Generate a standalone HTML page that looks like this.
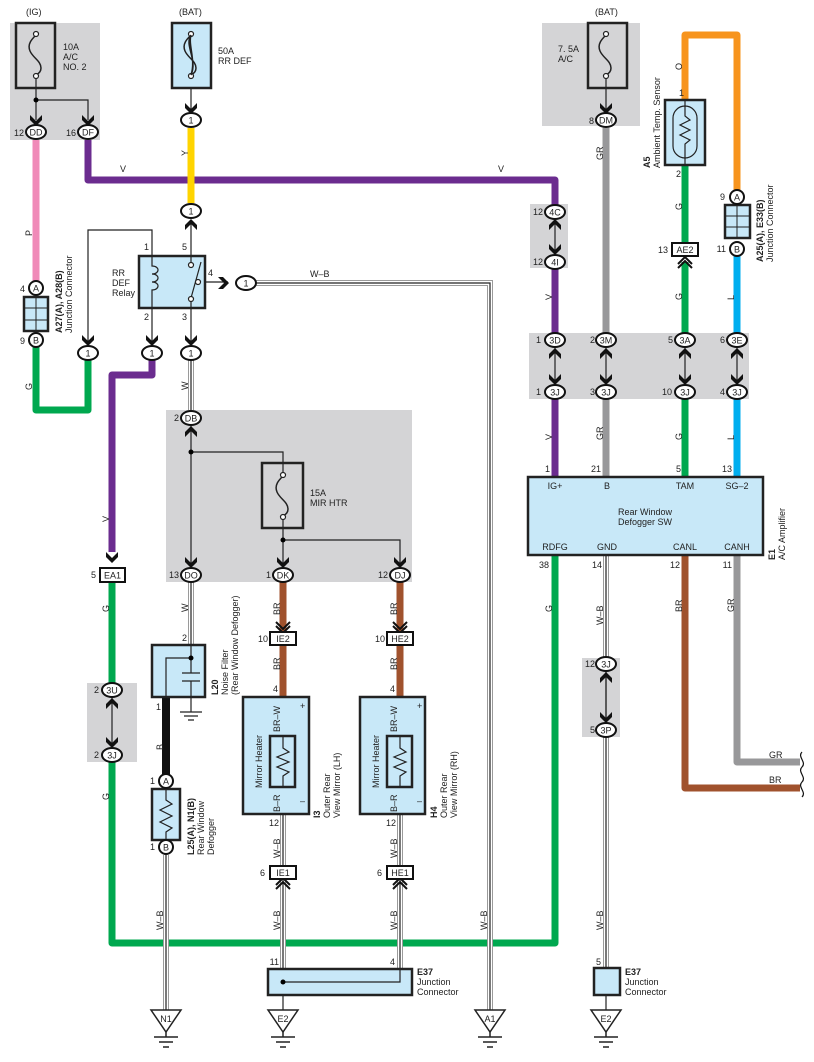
<!DOCTYPE html>
<html><head><meta charset="utf-8"><style>
html,body{margin:0;padding:0;background:#fff}
svg{display:block}
text{font-family:"Liberation Sans",sans-serif;font-size:9px;fill:#222}
.o{fill:none;stroke:#9a9a9a;stroke-width:6}
.m{fill:none;stroke:#fff;stroke-width:4}
.i{fill:none;stroke:#222;stroke-width:1.2}
.k{fill:none;stroke:#222;stroke-width:1.2}
.ov{fill:#fff;stroke:#111;stroke-width:2}
.bx{fill:#c8e8f8;stroke:#222;stroke-width:2.5}
.gp{fill:#d4d4d6}
.fc{fill:#fff;stroke:#222;stroke-width:1.2}
</style></head><body>
<svg width="814" height="1062" viewBox="0 0 814 1062" xmlns="http://www.w3.org/2000/svg">
<defs>
<path id="ad" d="M-6,-11 L0,-5 L6,-11 L6,-6 L0,0 L-6,-6Z" fill="#111"/>
<path id="dc" d="M-7,-10 L0,-3 L7,-10 M-7,-6 L0,1 L7,-6" fill="none" stroke="#111" stroke-width="2"/>
<g id="gnd"><path d="M-15,0 L15,0 L0,22Z" fill="#fff" stroke="#222" stroke-width="1.5"/><path d="M0,22 V27 M-12,27 H12 M-7,32 H7 M-3,37 H3" stroke="#222" stroke-width="1.5"/></g>
<g id="fz"><path d="M0,-20 C-4,-16 -9,-11 -6,-4 C-3,3 5,6 5,13 C5,17 2,19 0,20" fill="none" stroke="#222" stroke-width="1.5"/><circle cx="0" cy="-21" r="2.5" class="fc"/><circle cx="0" cy="21" r="2.5" class="fc"/></g>
</defs>

<rect class="gp" x="10" y="23" width="90" height="117"/>
<rect class="gp" x="542" y="23" width="98" height="103"/>
<rect class="gp" x="166" y="410" width="246" height="172"/>
<rect class="gp" x="530" y="204" width="38" height="64"/>
<rect class="gp" x="529" y="333" width="220" height="66"/>
<rect class="gp" x="87" y="683" width="50" height="79"/>
<rect class="gp" x="582" y="658" width="38" height="79"/>

<g fill="none" stroke-width="7" stroke-linejoin="round">
<path d="M36,140 V283" stroke="#f08ab8"/>
<path d="M36,347 V410 H88 V360" stroke="#00a84f"/>
<path d="M88,140 V180 H555 V205" stroke="#6b2c8f"/>
<path d="M555,268 V333 M555,399 V477" stroke="#6b2c8f"/>
<path d="M191,128 V203" stroke="#ffd400"/>
<path d="M152,360 V375 H112 V552" stroke="#6b2c8f"/>
<path d="M112,582 V683 M112,762 V943 H555 V555" stroke="#00a84f"/>
<path d="M606,128 V333 M606,399 V477" stroke="#98989a"/>
<path d="M685,100 V35 H737 V190" stroke="#f7941d"/>
<path d="M685,165 V243 M685,262 V333 M685,399 V477" stroke="#00a84f"/>
<path d="M737,256 V333 M737,399 V477" stroke="#00aeef"/>
<path d="M685,555 V788 H800" stroke="#a0522d"/>
<path d="M737,555 V762 H800" stroke="#98989a"/>
<path d="M283,582 V632 M283,645 V697 M400,582 V632 M400,645 V697" stroke="#a0522d"/>
<path d="M166,697 V775" stroke="#111" stroke-width="8"/>
</g>
<g fill="none" stroke-width="5">
<path d="M283,697 V736 M400,697 V736" stroke="#d8a080"/>
<path d="M283,787 V814 M400,787 V814" stroke="#d03030"/>
</g>
<path d="M283,697 V736 M400,697 V736 M283,787 V814 M400,787 V814" fill="none" stroke="#fff" stroke-width="1.5"/>

<g>
<path class="o" d="M256,283 H490 V1010"/><path class="m" d="M256,283 H490 V1010"/><path class="i" d="M256,283 H490 V1010"/>
<path class="o" d="M191,360 V410"/><path class="m" d="M191,360 V410"/><path class="i" d="M191,360 V410"/>
<path class="o" d="M191,582 V645"/><path class="m" d="M191,582 V645"/><path class="i" d="M191,582 V645"/>
<path class="o" d="M166,855 V1010"/><path class="m" d="M166,855 V1010"/><path class="i" d="M166,855 V1010"/>
<path class="o" d="M283,814 V865 M283,880 V970"/><path class="m" d="M283,814 V865 M283,880 V970"/><path class="i" d="M283,814 V865 M283,880 V1010"/>
<path class="o" d="M400,814 V865 M400,880 V970"/><path class="m" d="M400,814 V865 M400,880 V970"/><path class="i" d="M400,814 V865 M400,880 V970"/>
<path class="o" d="M606,555 V658 M606,737 V968"/><path class="m" d="M606,555 V658 M606,737 V968"/><path class="i" d="M606,555 V1010"/>
</g>

<g class="k">
<path d="M36,78 V120 M36,100 H88 V120"/>
<path d="M191,78 V112"/>
<path d="M191,222 V256 M191,308 V345"/>
<path d="M88,345 V230 H152 V345"/>
<path d="M198,282 H228"/>
<path d="M191,426 V567 M191,452 H283 V474 M283,518 V567 M283,540 H400 V567"/>
<path d="M606,78 V112"/>
<path d="M555,220 V254 M606,348 V384 M555,348 V384 M685,348 V384 M737,348 V384"/>
<path d="M112,698 V747 M606,672 V722"/>
</g>
<circle cx="36" cy="100" r="2.5"/><circle cx="191" cy="452" r="2.5"/><circle cx="283" cy="540" r="2.5"/>

<use href="#ad" x="36" y="126"/><use href="#ad" x="88" y="126"/><use href="#ad" x="191" y="114"/>
<use href="#ad" x="88" y="346"/><use href="#ad" x="152" y="346"/><use href="#ad" x="191" y="346"/>
<use href="#ad" x="191" y="568"/><use href="#ad" x="283" y="568"/><use href="#ad" x="400" y="568"/>
<use href="#ad" x="606" y="114"/><use href="#ad" x="555" y="255"/><use href="#ad" x="555" y="385"/>
<use href="#ad" x="606" y="385"/><use href="#ad" x="685" y="385"/><use href="#ad" x="737" y="385"/>
<use href="#ad" x="112" y="748"/><use href="#ad" x="606" y="723"/>
<use href="#ad" x="112" y="563"/>
<g transform="translate(229,283) rotate(-90)"><use href="#ad"/></g>
<g transform="translate(191,219) rotate(180)"><use href="#ad"/></g>
<g transform="translate(191,426) rotate(180)"><use href="#ad"/></g>
<g transform="translate(555,219) rotate(180)"><use href="#ad"/></g>
<g transform="translate(555,348) rotate(180)"><use href="#ad"/></g>
<g transform="translate(606,348) rotate(180)"><use href="#ad"/></g>
<g transform="translate(685,348) rotate(180)"><use href="#ad"/></g>
<g transform="translate(737,348) rotate(180)"><use href="#ad"/></g>
<g transform="translate(112,698) rotate(180)"><use href="#ad"/></g>
<g transform="translate(606,672) rotate(180)"><use href="#ad"/></g>
<use href="#dc" x="283" y="632"/><use href="#dc" x="400" y="632"/>
<g transform="translate(283,879) rotate(180)"><use href="#dc"/></g>
<g transform="translate(400,879) rotate(180)"><use href="#dc"/></g>
<g transform="translate(685,258) rotate(180)"><use href="#dc"/></g>

<rect x="16" y="23" width="39" height="65" fill="none" stroke="#222" stroke-width="2.5"/>
<use href="#fz" x="36" y="55"/>
<rect class="bx" x="172" y="23" width="39" height="65"/>
<use href="#fz" x="191" y="55"/>
<path d="M191,35 C184,45 198,60 191,75 M191,35 C188,45 196,60 191,75" fill="none" stroke="#222" stroke-width="1.5"/>
<rect x="588" y="23" width="39" height="65" fill="none" stroke="#222" stroke-width="2.5"/>
<use href="#fz" x="606" y="55"/>
<rect x="262" y="463" width="41" height="65" fill="none" stroke="#222" stroke-width="2.5"/>
<use href="#fz" x="283" y="496"/>

<rect class="bx" x="139" y="256" width="66" height="52"/>
<path d="M152,256 V266 C160,266 160,274 152,274 C160,274 160,282 152,282 C160,282 160,290 152,290 V308" fill="none" stroke="#222" stroke-width="1.2"/>
<path d="M191,256 V264 M191,300 V308 M191,298 L201,262" fill="none" stroke="#222" stroke-width="1.2"/>
<circle cx="191" cy="265" r="2.5" class="fc"/><circle cx="191" cy="299" r="2.5" class="fc"/><circle cx="198" cy="282" r="2.5" class="fc"/>

<rect class="bx" x="24" y="297" width="24" height="34" stroke-width="2"/>
<path d="M36,297 V331 M24,308 H48 M24,320 H48" stroke="#222" stroke-width="1"/>
<rect class="bx" x="725" y="205" width="25" height="33" stroke-width="2"/>
<path d="M737,205 V238 M725,216 H750 M725,227 H750" stroke="#222" stroke-width="1"/>

<rect class="bx" x="665" y="100" width="40" height="65"/>
<rect x="673" y="106" width="24" height="52" rx="12" fill="none" stroke="#222" stroke-width="1.2"/>
<path d="M685,100 V116 L690,120 L680,125 L690,130 L680,135 L690,140 L685,144 V165" fill="none" stroke="#222" stroke-width="1.2"/>

<rect class="bx" x="152" y="645" width="53" height="52"/>
<path d="M191,645 V673 M182,673 H200 M182,681 H200 M191,681 V712 M180,712 H202 M184,716 H198 M188,720 H194 M191,658 H166 V697" fill="none" stroke="#222" stroke-width="1.2"/>
<circle cx="191" cy="658" r="2.5"/>

<rect class="bx" x="152" y="789" width="28" height="51"/>
<path d="M166,789 V800 L172,804 L160,810 L172,816 L160,822 L172,828 L166,832 V840" fill="none" stroke="#222" stroke-width="1.2"/>
<circle cx="166" cy="781" r="7" class="ov"/><text x="166" y="784.5" text-anchor="middle">A</text>
<circle cx="166" cy="847" r="7" class="ov"/><text x="166" y="850.5" text-anchor="middle">B</text>

<rect class="bx" x="243" y="697" width="66" height="117"/>
<rect class="bx" x="270" y="736" width="25" height="51" stroke-width="2"/>
<path d="M283,736 V748 L289,752 L277,757 L289,762 L277,767 L289,772 L283,776 V787" fill="none" stroke="#222" stroke-width="1.2"/>
<rect class="bx" x="360" y="697" width="65" height="117"/>
<rect class="bx" x="387" y="736" width="25" height="51" stroke-width="2"/>
<path d="M400,736 V748 L406,752 L394,757 L406,762 L394,767 L406,772 L400,776 V787" fill="none" stroke="#222" stroke-width="1.2"/>

<rect class="bx" x="528" y="477" width="235" height="78" stroke-width="3"/>

<rect class="bx" x="268" y="969" width="144" height="26"/>
<path d="M283,982 H400 V970" fill="none" stroke="#222" stroke-width="1.2"/><circle cx="283" cy="982" r="2.5"/>
<rect class="bx" x="594" y="968" width="26" height="27"/>

<use href="#gnd" x="166" y="1010"/><use href="#gnd" x="283" y="1010"/><use href="#gnd" x="490" y="1010"/><use href="#gnd" x="606" y="1010"/>
<text x="166" y="1022" text-anchor="middle">N1</text><text x="283" y="1022" text-anchor="middle">E2</text><text x="490" y="1022" text-anchor="middle">A1</text><text x="606" y="1022" text-anchor="middle">E2</text>

<g>
<ellipse class="ov" cx="36" cy="132" rx="10" ry="7"/><text x="36" y="135.5" text-anchor="middle">DD</text>
<ellipse class="ov" cx="88" cy="132" rx="10" ry="7"/><text x="88" y="135.5" text-anchor="middle">DF</text>
<ellipse class="ov" cx="191" cy="120" rx="10" ry="7"/><text x="191" y="123.5" text-anchor="middle">1</text>
<ellipse class="ov" cx="191" cy="211" rx="10" ry="7"/><text x="191" y="214.5" text-anchor="middle">1</text>
<ellipse class="ov" cx="246" cy="283" rx="10" ry="7"/><text x="246" y="286.5" text-anchor="middle">1</text>
<ellipse class="ov" cx="88" cy="353" rx="10" ry="7"/><text x="88" y="356.5" text-anchor="middle">1</text>
<ellipse class="ov" cx="152" cy="353" rx="10" ry="7"/><text x="152" y="356.5" text-anchor="middle">1</text>
<ellipse class="ov" cx="191" cy="353" rx="10" ry="7"/><text x="191" y="356.5" text-anchor="middle">1</text>
<ellipse class="ov" cx="191" cy="418" rx="10" ry="7"/><text x="191" y="421.5" text-anchor="middle">DB</text>
<ellipse class="ov" cx="191" cy="575" rx="10" ry="7"/><text x="191" y="578.5" text-anchor="middle">DO</text>
<ellipse class="ov" cx="283" cy="575" rx="10" ry="7"/><text x="283" y="578.5" text-anchor="middle">DK</text>
<ellipse class="ov" cx="400" cy="575" rx="10" ry="7"/><text x="400" y="578.5" text-anchor="middle">DJ</text>
<ellipse class="ov" cx="112" cy="690" rx="10" ry="7"/><text x="112" y="693.5" text-anchor="middle">3U</text>
<ellipse class="ov" cx="112" cy="755" rx="10" ry="7"/><text x="112" y="758.5" text-anchor="middle">3J</text>
<ellipse class="ov" cx="606" cy="120" rx="10" ry="7"/><text x="606" y="123.5" text-anchor="middle">DM</text>
<ellipse class="ov" cx="555" cy="212" rx="10" ry="7"/><text x="555" y="215.5" text-anchor="middle">4C</text>
<ellipse class="ov" cx="555" cy="262" rx="10" ry="7"/><text x="555" y="265.5" text-anchor="middle">4I</text>
<ellipse class="ov" cx="555" cy="340" rx="10" ry="7"/><text x="555" y="343.5" text-anchor="middle">3D</text>
<ellipse class="ov" cx="606" cy="340" rx="10" ry="7"/><text x="606" y="343.5" text-anchor="middle">3M</text>
<ellipse class="ov" cx="685" cy="340" rx="10" ry="7"/><text x="685" y="343.5" text-anchor="middle">3A</text>
<ellipse class="ov" cx="737" cy="340" rx="10" ry="7"/><text x="737" y="343.5" text-anchor="middle">3E</text>
<ellipse class="ov" cx="555" cy="392" rx="10" ry="7"/><text x="555" y="395.5" text-anchor="middle">3J</text>
<ellipse class="ov" cx="606" cy="392" rx="10" ry="7"/><text x="606" y="395.5" text-anchor="middle">3J</text>
<ellipse class="ov" cx="685" cy="392" rx="10" ry="7"/><text x="685" y="395.5" text-anchor="middle">3J</text>
<ellipse class="ov" cx="737" cy="392" rx="10" ry="7"/><text x="737" y="395.5" text-anchor="middle">3J</text>
<ellipse class="ov" cx="606" cy="664" rx="10" ry="7"/><text x="606" y="667.5" text-anchor="middle">3J</text>
<ellipse class="ov" cx="606" cy="730" rx="10" ry="7"/><text x="606" y="733.5" text-anchor="middle">3P</text>
<circle class="ov" cx="36" cy="288" r="7"/><text x="36" y="291.5" text-anchor="middle">A</text>
<circle class="ov" cx="36" cy="340" r="7"/><text x="36" y="343.5" text-anchor="middle">B</text>
<circle class="ov" cx="737" cy="197" r="7"/><text x="737" y="200.5" text-anchor="middle">A</text>
<circle class="ov" cx="737" cy="249" r="7"/><text x="737" y="252.5" text-anchor="middle">B</text>
</g>
<g>
<rect x="100" y="568" width="25" height="14" fill="#fff" stroke="#111" stroke-width="2"/><text x="112.5" y="578.5" text-anchor="middle">EA1</text>
<rect x="270" y="632" width="26" height="13" fill="#fff" stroke="#111" stroke-width="2"/><text x="283" y="642" text-anchor="middle">IE2</text>
<rect x="387" y="632" width="26" height="13" fill="#fff" stroke="#111" stroke-width="2"/><text x="400" y="642" text-anchor="middle">HE2</text>
<rect x="270" y="866" width="26" height="13" fill="#fff" stroke="#111" stroke-width="2"/><text x="283" y="876" text-anchor="middle">IE1</text>
<rect x="387" y="866" width="26" height="13" fill="#fff" stroke="#111" stroke-width="2"/><text x="400" y="876" text-anchor="middle">HE1</text>
<rect x="672" y="243" width="26" height="13" fill="#fff" stroke="#111" stroke-width="2"/><text x="685" y="253" text-anchor="middle">AE2</text>
</g>

<g>
<text x="26" y="15">(IG)</text><text x="179" y="15">(BAT)</text><text x="595" y="15">(BAT)</text>
<text x="63" y="50">10A</text><text x="63" y="60">A/C</text><text x="63" y="70">NO. 2</text>
<text x="218" y="54">50A</text><text x="218" y="64">RR DEF</text>
<text x="558" y="52">7. 5A</text><text x="558" y="62">A/C</text>
<text x="310" y="496">15A</text><text x="310" y="506">MIR HTR</text>
<text x="112" y="276">RR</text><text x="112" y="286">DEF</text><text x="112" y="296">Relay</text>
<text x="24" y="136" text-anchor="end">12</text><text x="76" y="136" text-anchor="end">16</text>
<text x="20" y="292">4</text><text x="20" y="344">9</text>
<text x="144" y="250">1</text><text x="182" y="250">5</text><text x="208" y="276">4</text><text x="144" y="320">2</text><text x="182" y="320">3</text>
<text x="120" y="172">V</text><text x="498" y="172">V</text><text x="310" y="277">W–B</text>
<text x="179" y="421" text-anchor="end">2</text><text x="179" y="578" text-anchor="end">13</text><text x="271" y="578" text-anchor="end">1</text><text x="388" y="578" text-anchor="end">12</text>
<text x="91" y="578">5</text><text x="94" y="693">2</text><text x="94" y="758">2</text>
<text x="268" y="642" text-anchor="end">10</text><text x="385" y="642" text-anchor="end">10</text>
<text x="273" y="692">4</text><text x="390" y="692">4</text>
<text x="279" y="826" text-anchor="end">12</text><text x="396" y="826" text-anchor="end">12</text>
<text x="260" y="876">6</text><text x="377" y="876">6</text>
<text x="279" y="965" text-anchor="end">11</text><text x="390" y="965">4</text><text x="596" y="965">5</text>
<text x="182" y="641">2</text><text x="156" y="710">1</text><text x="150" y="784">1</text><text x="150" y="850">1</text>
<text x="300" y="709">+</text><text x="417" y="709">+</text><text x="300" y="804">–</text><text x="417" y="804">–</text>
<text x="594" y="124" text-anchor="end">8</text><text x="543" y="215" text-anchor="end">12</text><text x="543" y="265" text-anchor="end">12</text>
<text x="679" y="96">1</text><text x="676" y="177">2</text><text x="668" y="253" text-anchor="end">13</text>
<text x="720" y="200">9</text><text x="726" y="252" text-anchor="end">11</text>
<text x="536" y="343">1</text><text x="590" y="343">2</text><text x="668" y="343">5</text><text x="720" y="343">6</text>
<text x="536" y="395">1</text><text x="590" y="395">3</text><text x="672" y="395" text-anchor="end">10</text><text x="720" y="395">4</text>
<text x="595" y="667" text-anchor="end">12</text><text x="590" y="733">5</text>
<text x="545" y="472">1</text><text x="601" y="472" text-anchor="end">21</text><text x="676" y="472">5</text><text x="732" y="472" text-anchor="end">13</text>
<text x="549" y="568" text-anchor="end">38</text><text x="602" y="568" text-anchor="end">14</text><text x="680" y="568" text-anchor="end">12</text><text x="732" y="568" text-anchor="end">11</text>
<text x="555" y="489" text-anchor="middle">IG+</text><text x="607" y="489" text-anchor="middle">B</text><text x="685" y="489" text-anchor="middle">TAM</text><text x="737" y="489" text-anchor="middle">SG–2</text>
<text x="645" y="515" text-anchor="middle">Rear Window</text><text x="645" y="525" text-anchor="middle">Defogger SW</text>
<text x="555" y="550" text-anchor="middle">RDFG</text><text x="607" y="550" text-anchor="middle">GND</text><text x="685" y="550" text-anchor="middle">CANL</text><text x="737" y="550" text-anchor="middle">CANH</text>
<text x="769" y="758">GR</text><text x="769" y="783">BR</text>
<text x="417" y="975" font-weight="bold">E37</text><text x="417" y="985">Junction</text><text x="417" y="995">Connector</text>
<text x="625" y="975" font-weight="bold">E37</text><text x="625" y="985">Junction</text><text x="625" y="995">Connector</text>
</g>
<path d="M802,752 C797,757 807,762 802,767 C797,772 807,777 802,782 C797,787 807,792 802,797" fill="none" stroke="#111" stroke-width="1.2"/>

<g>
<text transform="translate(32,236) rotate(-90)">P</text>
<text transform="translate(32,390) rotate(-90)">G</text>
<text transform="translate(188,156) rotate(-90)">Y</text>
<text transform="translate(188,390) rotate(-90)">W</text>
<text transform="translate(188,612) rotate(-90)">W</text>
<text transform="translate(109,522) rotate(-90)">V</text>
<text transform="translate(109,612) rotate(-90)">G</text>
<text transform="translate(109,800) rotate(-90)">G</text>
<text transform="translate(163,750) rotate(-90)">B</text>
<text transform="translate(163,930) rotate(-90)">W–B</text>
<text transform="translate(280,615) rotate(-90)">BR</text>
<text transform="translate(397,615) rotate(-90)">BR</text>
<text transform="translate(280,670) rotate(-90)">BR</text>
<text transform="translate(397,670) rotate(-90)">BR</text>
<text transform="translate(280,732) rotate(-90)">BR–W</text>
<text transform="translate(397,732) rotate(-90)">BR–W</text>
<text transform="translate(280,812) rotate(-90)">B–R</text>
<text transform="translate(397,812) rotate(-90)">B–R</text>
<text transform="translate(262,788) rotate(-90)">Mirror Heater</text>
<text transform="translate(379,788) rotate(-90)">Mirror Heater</text>
<text transform="translate(280,858) rotate(-90)">W–B</text>
<text transform="translate(397,858) rotate(-90)">W–B</text>
<text transform="translate(280,930) rotate(-90)">W–B</text>
<text transform="translate(397,930) rotate(-90)">W–B</text>
<text transform="translate(487,930) rotate(-90)">W–B</text>
<text transform="translate(603,930) rotate(-90)">W–B</text>
<text transform="translate(603,625) rotate(-90)">W–B</text>
<text transform="translate(552,300) rotate(-90)">V</text>
<text transform="translate(552,440) rotate(-90)">V</text>
<text transform="translate(552,612) rotate(-90)">G</text>
<text transform="translate(603,160) rotate(-90)">GR</text>
<text transform="translate(603,440) rotate(-90)">GR</text>
<text transform="translate(682,70) rotate(-90)">O</text>
<text transform="translate(682,210) rotate(-90)">G</text>
<text transform="translate(682,300) rotate(-90)">G</text>
<text transform="translate(682,440) rotate(-90)">G</text>
<text transform="translate(682,612) rotate(-90)">BR</text>
<text transform="translate(734,300) rotate(-90)">L</text>
<text transform="translate(734,440) rotate(-90)">L</text>
<text transform="translate(734,612) rotate(-90)">GR</text>
<text transform="translate(62,333) rotate(-90)" font-weight="bold">A27(A), A28(B)</text>
<text transform="translate(72,333) rotate(-90)">Junction Connector</text>
<text transform="translate(218,695) rotate(-90)" font-weight="bold">L20</text>
<text transform="translate(228,695) rotate(-90)">Noise Filter</text>
<text transform="translate(238,695) rotate(-90)">(Rear Window Defogger)</text>
<text transform="translate(194,855) rotate(-90)" font-weight="bold">L25(A), N1(B)</text>
<text transform="translate(204,855) rotate(-90)">Rear Window</text>
<text transform="translate(214,855) rotate(-90)">Defogger</text>
<text transform="translate(320,818) rotate(-90)" font-weight="bold">I3</text>
<text transform="translate(330,818) rotate(-90)">Outer Rear</text>
<text transform="translate(340,818) rotate(-90)">View Mirror (LH)</text>
<text transform="translate(437,818) rotate(-90)" font-weight="bold">H4</text>
<text transform="translate(447,818) rotate(-90)">Outer Rear</text>
<text transform="translate(457,818) rotate(-90)">View Mirror (RH)</text>
<text transform="translate(650,168) rotate(-90)" font-weight="bold">A5</text>
<text transform="translate(660,168) rotate(-90)">Ambient Temp.  Sensor</text>
<text transform="translate(763,262) rotate(-90)" font-weight="bold">A25(A), E33(B)</text>
<text transform="translate(773,262) rotate(-90)">Junction Connector</text>
<text transform="translate(775,560) rotate(-90)" font-weight="bold">E1</text>
<text transform="translate(785,560) rotate(-90)">A/C Amplifier</text>
</g>
</svg>
</body></html>
